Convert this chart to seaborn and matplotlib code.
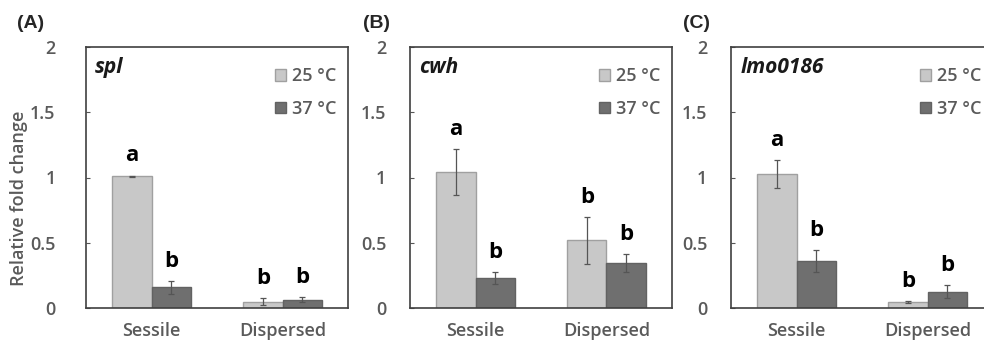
import numpy as np
import pandas as pd
import matplotlib
matplotlib.use('Agg')
import matplotlib.pyplot as plt
import seaborn as sns
from matplotlib.patches import Patch

# data
states = ['Sessile', 'Dispersed']
temps = ['25 °C', '37 °C']
genes = ['spl', 'cwh', 'lmo0186']
panels = ['(A)', '(B)', '(C)']

spl_mean = [[1.01, 0.158], [0.048, 0.064]]
spl_err = [[0.005, 0.048], [0.025, 0.02]]
spl_sig = [['a', 'b'], ['b', 'b']]

cwh_mean = [[1.04, 0.232], [0.52, 0.347]]
cwh_err = [[0.175, 0.045], [0.18, 0.068]]
cwh_sig = [['a', 'b'], ['b', 'b']]

lmo_mean = [[1.027, 0.36], [0.046, 0.123]]
lmo_err = [[0.105, 0.085], [0.005, 0.05]]
lmo_sig = [['a', 'b'], ['b', 'b']]

means = [spl_mean, cwh_mean, lmo_mean]
errs = [spl_err, cwh_err, lmo_err]
sigs = [spl_sig, cwh_sig, lmo_sig]

colors = ['#c8c8c8', '#6f6f6f']
edges = ['#a0a0a0', '#626262']
gray_txt = '#5a5a5a'

sns.set_style('white')
plt.rcParams['font.family'] = ['Open Sans', 'DejaVu Sans']

fig = plt.figure(figsize=(9.84, 3.44), dpi=100)
lefts = [86, 410, 731]
label_x = [17, 363, 683]
ypads = [22, 17, 17]

for k in range(3):
    ax = fig.add_axes([lefts[k] / 984, 1 - 308 / 344, 262 / 984, 261 / 344])
    rows = []
    for i, s in enumerate(states):
        for j, t in enumerate(temps):
            rows.append({'state': s, 'temp': t, 'val': means[k][i][j],
                         'err': errs[k][i][j], 'sig': sigs[k][i][j]})
    df = pd.DataFrame(rows)
    sns.barplot(data=df, x='state', y='val', hue='temp', order=states,
                hue_order=temps, palette=colors, width=0.6, errorbar=None,
                legend=False, ax=ax, linewidth=1)
    # bars are drawn hue by hue
    for n, bar in enumerate(ax.patches):
        j = n // len(states)
        i = n % len(states)
        bar.set_edgecolor(edges[j])
        bar.set_linewidth(1)
        xc = bar.get_x() + bar.get_width() / 2
        m = means[k][i][j]
        e = errs[k][i][j]
        ax.errorbar(xc, m, yerr=e, fmt='none', ecolor='#555555',
                    elinewidth=0.9, capsize=2.5, capthick=0.9)
        ax.text(xc, m + e + 0.07, sigs[k][i][j], ha='center', va='bottom',
                fontsize=16, fontweight='bold', color='black')

    ax.set_ylim(0, 2)
    ax.set_xlim(-0.5, 1.5)
    ax.set_yticks([0, 0.5, 1, 1.5, 2])
    ax.set_yticklabels(['0', '0.5', '1', '1.5', '2'])
    ax.tick_params(axis='y', direction='in', length=3, width=0.8,
                   colors='#555555', labelcolor=gray_txt, labelsize=13,
                   pad=ypads[k], left=True)
    ax.tick_params(axis='x', length=0, labelcolor=gray_txt, labelsize=13, pad=10)
    for lab in ax.get_yticklabels() + ax.get_xticklabels():
        lab.set_fontweight('semibold')
    for sp in ax.spines.values():
        sp.set_color('#404040')
        sp.set_linewidth(1.2)
    ax.set_xlabel('')
    if k == 0:
        ax.set_ylabel('Relative fold change', color=gray_txt, fontsize=13,
                      fontweight='semibold')
        ax.yaxis.set_label_coords(-58 / 262, 0.42)
    else:
        ax.set_ylabel('')

    ax.text(0.035, 0.96, genes[k], transform=ax.transAxes, ha='left', va='top',
            fontsize=15, fontstyle='italic', fontweight='bold', color='#1a1a1a')
    handles = [Patch(facecolor=colors[j], edgecolor=edges[j], label=temps[j])
               for j in range(2)]
    leg = ax.legend(handles=handles, loc='upper right', frameon=False,
                    fontsize=13, handlelength=0.6, handleheight=0.6,
                    handletextpad=0.35, labelspacing=0.8,
                    bbox_to_anchor=(1.02, 0.985))
    for t in leg.get_texts():
        t.set_color(gray_txt)
        t.set_fontweight('semibold')

    fig.text(label_x[k] / 984, 1 - 24 / 344, panels[k], ha='left',
             va='center', fontsize=14, fontweight='bold',
             family=['Liberation Sans', 'DejaVu Sans'])

fig.savefig('out.png', dpi=100)
